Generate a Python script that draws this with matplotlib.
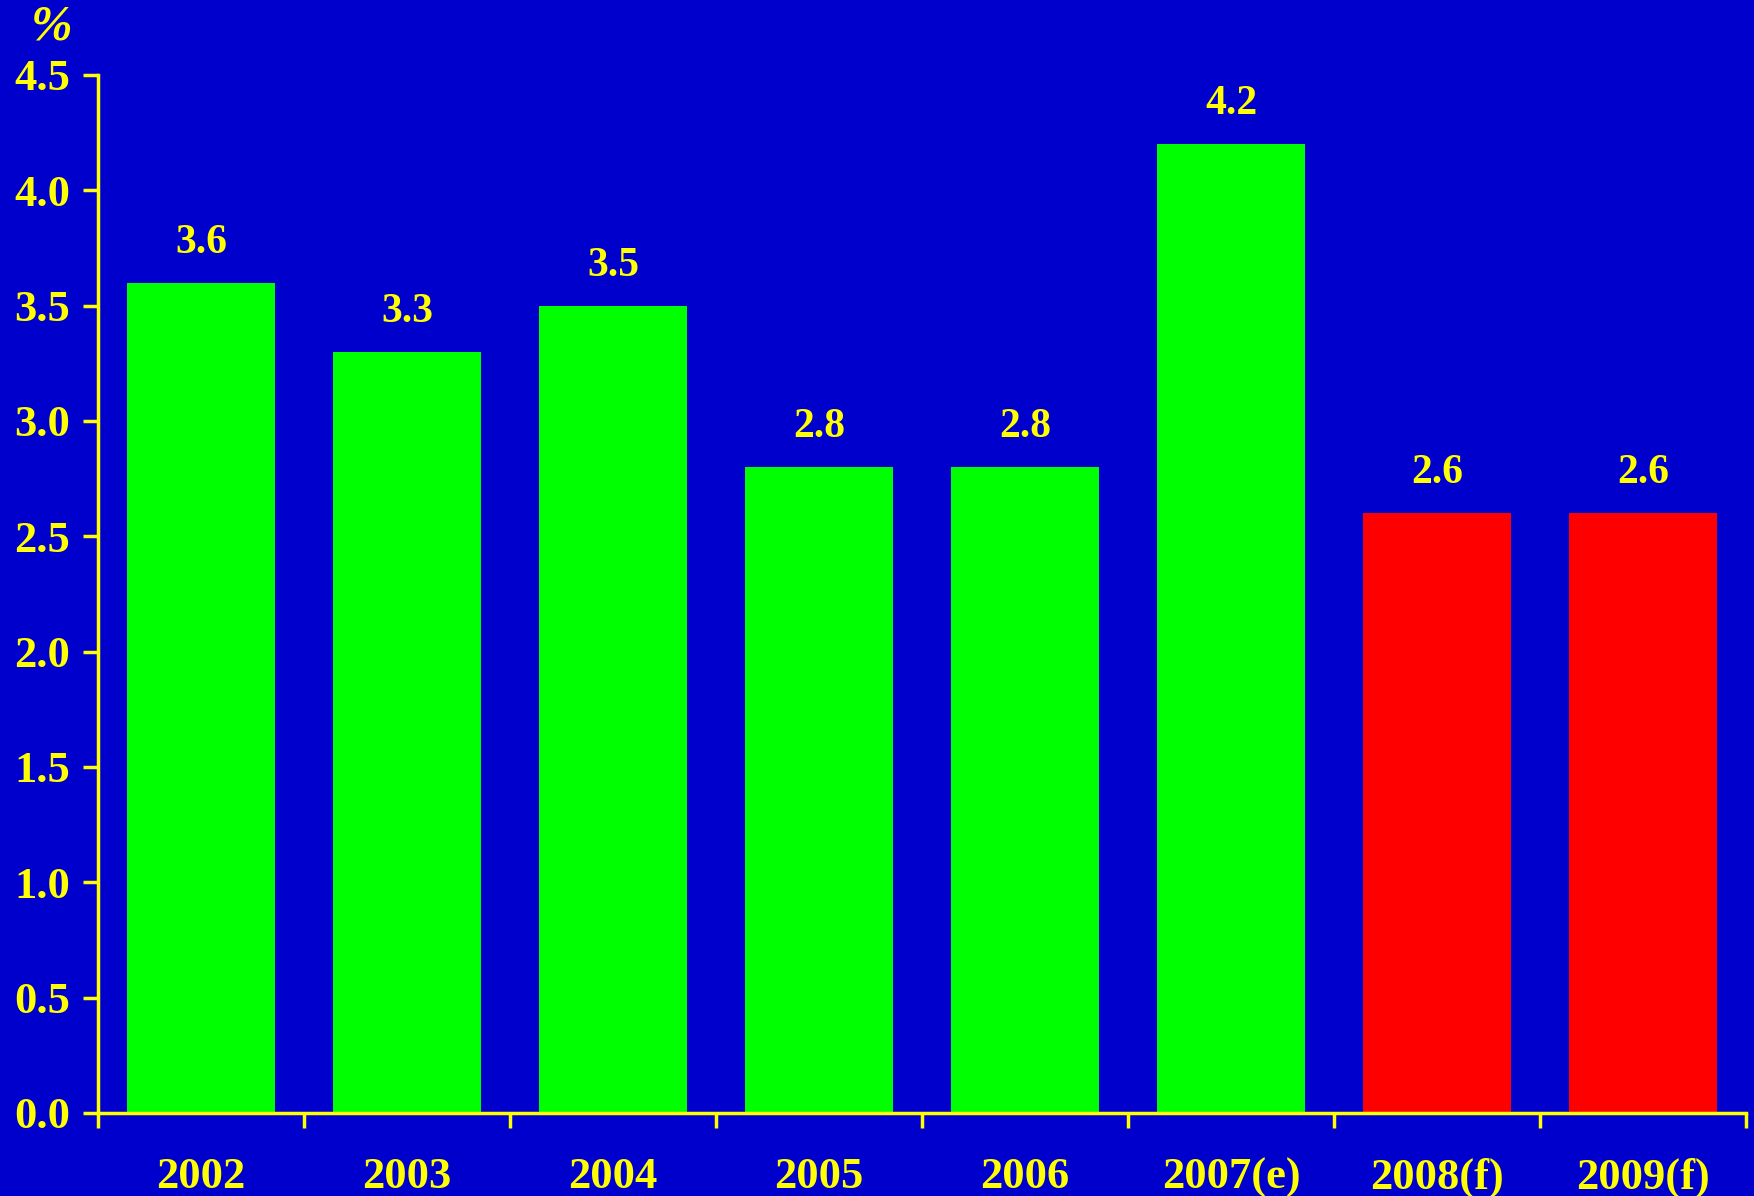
import matplotlib
matplotlib.use("Agg")
import matplotlib.pyplot as plt

# data
years = ["2002", "2003", "2004", "2005", "2006", "2007(e)", "2008(f)", "2009(f)"]
values = [3.6, 3.3, 3.5, 2.8, 2.8, 4.2, 2.6, 2.6]
bar_colors = ["#00FF00"] * 6 + ["#FF0000"] * 2
y_ticks = [0.0, 0.5, 1.0, 1.5, 2.0, 2.5, 3.0, 3.5, 4.0, 4.5]

bg = "#0000CC"
fg = "#FFFF00"
font = "Liberation Serif"

fig = plt.figure(figsize=(17.54, 11.96), dpi=100, facecolor=bg)
ax = fig.add_axes([0.0559, 0.0694, 0.9395, 0.8679], facecolor=bg)

positions = list(range(len(years)))
ax.bar(positions, values, width=0.72, color=bar_colors, zorder=2)

# value labels above bars
for x, v in zip(positions, values):
    ax.annotate(f"{v:.1f}", (x, v), xytext=(0, 15), textcoords="offset points",
                ha="center", va="bottom", color=fg, fontsize=30,
                fontweight="bold", family=font)

ax.set_xlim(-0.5, len(years) - 0.5)
ax.set_ylim(0, 4.5)

# ticks on category boundaries, labels centered under bars
ax.set_xticks([p - 0.5 for p in positions] + [len(years) - 0.5])
ax.set_xticklabels([])
ax.set_xticks(positions, minor=True)
ax.set_xticklabels(years, minor=True)
ax.tick_params(axis="x", which="major", direction="out", length=11, width=2.5, color=fg)
ax.tick_params(axis="x", which="minor", length=0, pad=32, labelsize=32, labelcolor=fg)

ax.set_yticks(y_ticks)
ax.set_yticklabels([f"{t:.1f}" for t in y_ticks])
ax.tick_params(axis="y", direction="out", length=11, width=2.5, color=fg,
               pad=9, labelsize=32, labelcolor=fg)

for lab in ax.get_xticklabels(minor=True) + ax.get_yticklabels():
    lab.set_family(font)
    lab.set_fontweight("bold")

for side in ["top", "right"]:
    ax.spines[side].set_visible(False)
for side in ["left", "bottom"]:
    ax.spines[side].set_color(fg)
    ax.spines[side].set_linewidth(2.5)

fig.text(52 / 1754, 1 - 27 / 1196, "%", color=fg, fontsize=36, fontweight="bold",
         style="italic", family=font, ha="center", va="center")

fig.savefig("out.png", dpi=100, facecolor=bg)
